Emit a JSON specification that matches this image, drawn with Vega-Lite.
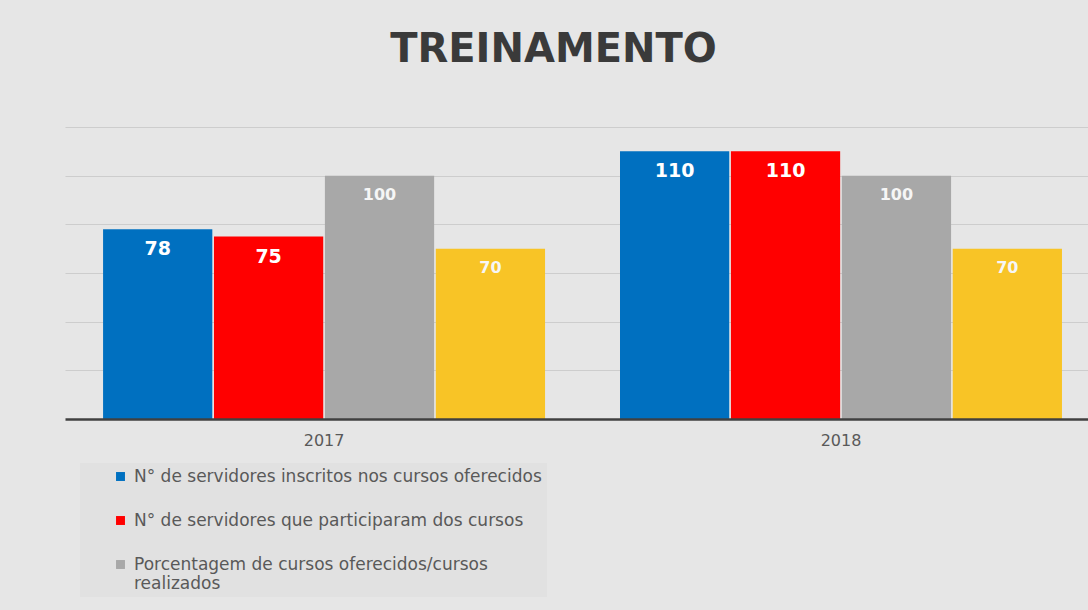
{
  "$schema": "https://vega.github.io/schema/vega-lite/v6.json",
  "width": 1023,
  "height": 292,
  "autosize": {"type": "none"},
  "padding": {"left": 65, "top": 127, "right": 0, "bottom": 191},
  "background": "#e6e6e6",
  "title": {
    "text": "TREINAMENTO",
    "font": "DejaVu Sans",
    "fontSize": 40,
    "fontWeight": "bold",
    "color": "#3a3a3a",
    "anchor": "middle",
    "baseline": "alphabetic",
    "offset": 25,
    "dx": -23
  },
  "data": {
    "values": [
      {"ano": "2017", "serie": "N° de servidores inscritos nos cursos oferecidos", "valor": 78},
      {"ano": "2017", "serie": "N° de servidores que participaram dos cursos", "valor": 75},
      {"ano": "2017", "serie": "Porcentagem de cursos oferecidos/cursos realizados", "valor": 100},
      {"ano": "2017", "serie": "Série 4", "valor": 70},
      {"ano": "2018", "serie": "N° de servidores inscritos nos cursos oferecidos", "valor": 110},
      {"ano": "2018", "serie": "N° de servidores que participaram dos cursos", "valor": 110},
      {"ano": "2018", "serie": "Porcentagem de cursos oferecidos/cursos realizados", "valor": 100},
      {"ano": "2018", "serie": "Série 4", "valor": 70}
    ]
  },
  "encoding": {
    "x": {
      "field": "ano",
      "type": "nominal",
      "scale": {"paddingInner": 0.145, "paddingOuter": 0.062, "align": 0.594},
      "axis": {
        "title": null,
        "ticks": false,
        "zindex": 1,
        "domainColor": "#404040",
        "domainWidth": 2.5,
        "labelFont": "DejaVu Sans",
        "labelFontSize": 16,
        "labelColor": "#595959",
        "labelAngle": 0,
        "labelPadding": 13
      }
    },
    "xOffset": {
      "field": "serie",
      "type": "nominal",
      "scale": {
        "domain": [
          "N° de servidores inscritos nos cursos oferecidos",
          "N° de servidores que participaram dos cursos",
          "Porcentagem de cursos oferecidos/cursos realizados",
          "Série 4"
        ],
        "paddingInner": 0.015
      }
    },
    "y": {
      "field": "valor",
      "type": "quantitative",
      "scale": {"domain": [0, 120]},
      "axis": {
        "title": null,
        "labels": false,
        "ticks": false,
        "domain": false,
        "grid": true,
        "gridColor": "#cdcdcd",
        "gridWidth": 1,
        "values": [20, 40, 60, 80, 100, 120]
      }
    }
  },
  "layer": [
    {
      "mark": {"type": "bar"},
      "encoding": {
        "color": {
          "field": "serie",
          "type": "nominal",
          "scale": {
            "domain": [
              "N° de servidores inscritos nos cursos oferecidos",
              "N° de servidores que participaram dos cursos",
              "Porcentagem de cursos oferecidos/cursos realizados",
              "Série 4"
            ],
            "range": ["#0070c0", "#ff0000", "#a8a8a8", "#f8c426"]
          },
          "legend": {
            "values": [
              "N° de servidores inscritos nos cursos oferecidos",
              "N° de servidores que participaram dos cursos",
              "Porcentagem de cursos oferecidos/cursos realizados"
            ],
            "orient": "none",
            "legendX": 15,
            "legendY": 336,
            "title": null,
            "symbolType": "square",
            "symbolSize": 80,
            "symbolStrokeWidth": 0,
            "symbolOffset": 27,
            "labelOffset": 5,
            "labelFont": "DejaVu Sans",
            "labelFontSize": 17,
            "labelColor": "#595959",
            "labelLimit": 600,
            "rowPadding": 26,
            "padding": 5,
            "fillColor": "#e1e1e1",
            "labelExpr": "datum.label == 'Porcentagem de cursos oferecidos/cursos realizados' ? ['Porcentagem de cursos oferecidos/cursos', 'realizados'] : datum.label"
          }
        }
      }
    },
    {
      "transform": [
        {"filter": {"field": "serie", "oneOf": ["N° de servidores inscritos nos cursos oferecidos", "N° de servidores que participaram dos cursos"]}}
      ],
      "mark": {"type": "text", "font": "DejaVu Sans", "fontWeight": "bold", "fontSize": 19, "color": "#ffffff", "baseline": "middle", "dy": 20},
      "encoding": {"text": {"field": "valor", "type": "quantitative"}}
    },
    {
      "transform": [
        {"filter": {"field": "serie", "oneOf": ["Porcentagem de cursos oferecidos/cursos realizados", "Série 4"]}}
      ],
      "mark": {"type": "text", "font": "DejaVu Sans", "fontWeight": "bold", "fontSize": 16, "color": "#f6f6f6", "baseline": "middle", "dy": 19},
      "encoding": {"text": {"field": "valor", "type": "quantitative"}}
    }
  ],
  "config": {"view": {"stroke": null}}
}
